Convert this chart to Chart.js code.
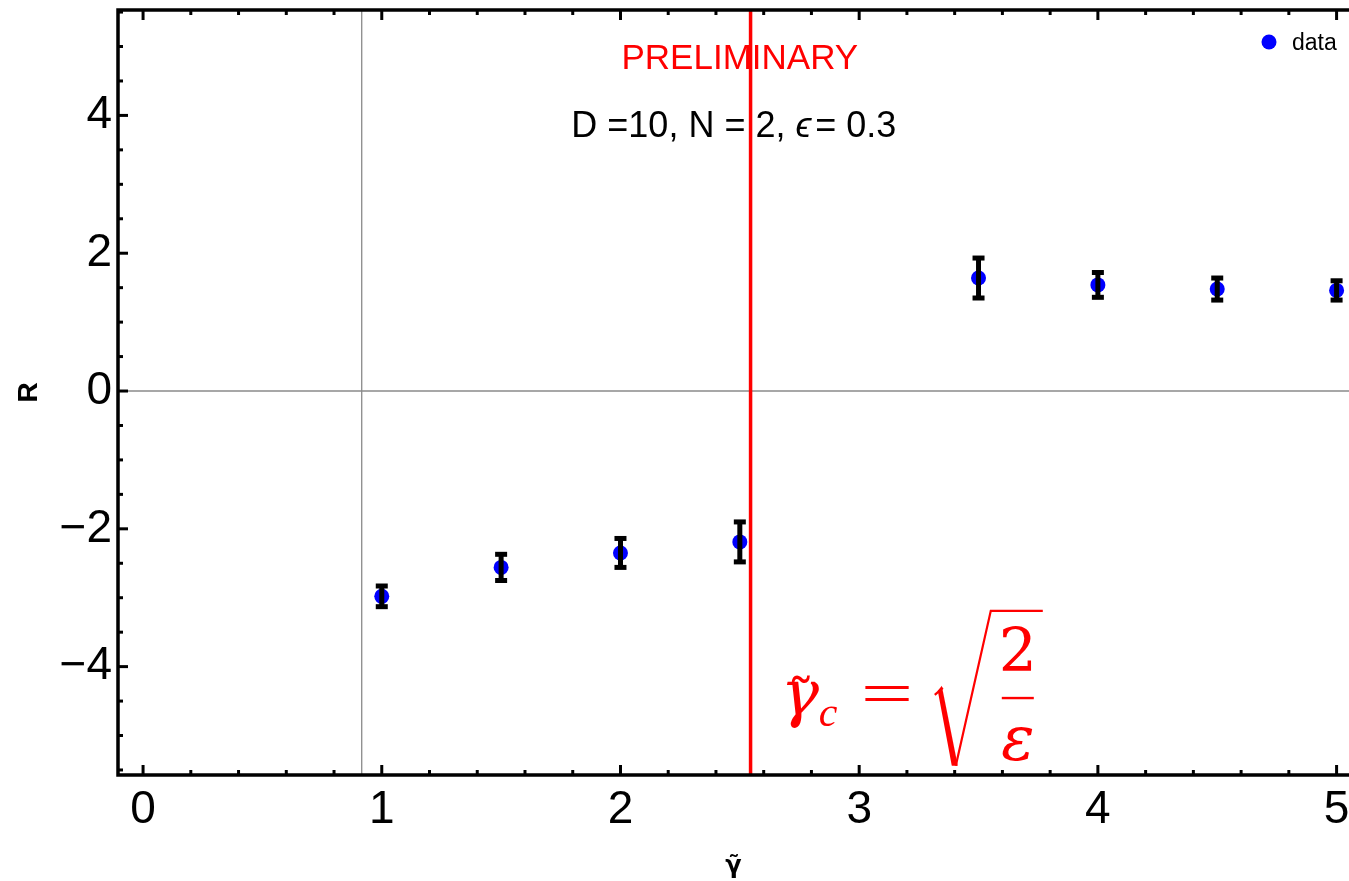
<!DOCTYPE html>
<html>
<head>
<meta charset="utf-8">
<script src="https://cdn.jsdelivr.net/npm/chart.js@4.4.1/dist/chart.umd.min.js"></script>
<style>
  html, body { margin: 0; padding: 0; background: #fff; }
  #wrap { width: 1349px; height: 881px; position: relative; }
</style>
</head>
<body>
<div id="wrap"><canvas id="chart"></canvas></div>
<script>
// data
const gammaVals = [1, 1.5, 2, 2.5, 3.5, 4, 4.5, 5];
const rVals = [-2.98, -2.56, -2.35, -2.19, 1.64, 1.54, 1.48, 1.46];
const rErr = [0.15, 0.19, 0.21, 0.29, 0.29, 0.18, 0.16, 0.14];

// axes
const xTicks = [0, 1, 2, 3, 4, 5];
const yTicks = [-4, -2, 0, 2, 4];
const xMin = -0.105, xMax = 5.052;
const yMin = -5.573, yMax = 5.53;
const axisCrossX = 0.916;   // where the grey vertical axis sits
const gammaC = 2.545;       // red critical line

const minus = v => v < 0 ? "\u2212" + Math.abs(v) : String(v);

// frame, ticks, error bars, texts
const decor = {
  id: "decor",
  beforeDatasetsDraw(chart) {
    const { ctx, scales: { x, y } } = chart;
    ctx.save();
    ctx.textAlign = "center";
    ctx.textBaseline = "alphabetic";
    ctx.fillStyle = "#ff0000";
    ctx.font = '35px "Liberation Sans"';
    ctx.fillText("PRELIMINARY", x.getPixelForValue(2.5), y.getPixelForValue(4.67));

    // subtitle, epsilon in italic
    ctx.fillStyle = "#000";
    const a = "D =10, N = 2, ", b = "\u03F5", c = "= 0.3";
    ctx.font = '36px "Liberation Sans"';
    const wa = ctx.measureText(a).width, wc = ctx.measureText(c).width;
    ctx.font = 'italic 36px "Liberation Sans"';
    const wb = ctx.measureText(b).width + 4;
    let sx = x.getPixelForValue(2.475) - (wa + wb + wc) / 2;
    const sy = y.getPixelForValue(3.69);
    ctx.textAlign = "left";
    ctx.font = '36px "Liberation Sans"';
    ctx.fillText(a, sx, sy);
    ctx.font = 'italic 36px "Liberation Sans"';
    ctx.fillText(b, sx + wa, sy);
    ctx.font = '36px "Liberation Sans"';
    ctx.fillText(c, sx + wa + wb, sy);
    ctx.restore();
  },
  afterDatasetsDraw(chart) {
    const { ctx, scales: { x, y } } = chart;
    ctx.save();
    // error bars on top of the points
    ctx.strokeStyle = "#000";
    ctx.fillStyle = "#000";
    ctx.lineWidth = 5;
    gammaVals.forEach((g, i) => {
      const px = x.getPixelForValue(g);
      const top = y.getPixelForValue(rVals[i] + rErr[i]);
      const bot = y.getPixelForValue(rVals[i] - rErr[i]);
      ctx.beginPath();
      ctx.moveTo(px, top);
      ctx.lineTo(px, bot);
      ctx.stroke();
      ctx.fillRect(px - 6, top - 2.5, 12, 5);
      ctx.fillRect(px - 6, bot - 2.5, 12, 5);
    });

    // legend
    const area = chart.chartArea;
    ctx.fillStyle = "#0000ff";
    ctx.beginPath();
    ctx.arc(area.right - 80, area.top + 32, 7.5, 0, Math.PI * 2);
    ctx.fill();
    ctx.fillStyle = "#000";
    ctx.font = '23px "Liberation Sans"';
    ctx.textAlign = "left";
    ctx.fillText("data", area.right - 57, area.top + 40);

    // formula for the critical gamma
    ctx.fillStyle = "#ff0000";
    ctx.strokeStyle = "#ff0000";
    const fx = x.getPixelForValue(2.68);
    const fb = y.getPixelForValue(-4.7);
    ctx.font = 'italic 64px "DejaVu Serif"';
    ctx.fillText("\u03B3", fx - 2, fb);
    ctx.font = '56px "DejaVu Serif"';
    ctx.textAlign = "center";
    ctx.fillText("\u02DC", fx + 18, fb + 4);
    ctx.textAlign = "left";
    ctx.font = 'italic 42px "Liberation Serif"';
    ctx.fillText("c", fx + 36, fb + 11);
    ctx.save();
    ctx.translate(fx + 78, fb);
    ctx.scale(1.5, 1);
    ctx.font = '62px "Liberation Serif"';
    ctx.fillText("=", 0, -1);
    ctx.restore();

    // radical sign
    const rx = fx + 152;
    ctx.lineJoin = "miter";
    ctx.lineWidth = 2.2;
    ctx.beginPath();
    ctx.moveTo(rx, fb - 20);
    ctx.lineTo(rx + 8, fb - 27);
    ctx.stroke();
    ctx.beginPath();
    ctx.moveTo(rx + 7, fb - 29);
    ctx.lineTo(rx + 23, fb + 51);
    ctx.lineTo(rx + 17, fb + 51);
    ctx.lineTo(rx + 3, fb - 24);
    ctx.closePath();
    ctx.fill();
    ctx.beginPath();
    ctx.moveTo(rx + 21, fb + 51);
    ctx.lineTo(rx + 56, fb - 104);
    ctx.lineTo(rx + 108, fb - 104);
    ctx.stroke();

    // fraction 2 / epsilon
    const cx = rx + 83;
    ctx.textAlign = "center";
    ctx.font = '60px "DejaVu Serif"';
    ctx.fillText("2", cx, fb - 44);
    ctx.fillRect(cx - 16, fb - 18, 32, 2.4);
    ctx.font = 'italic 62px "DejaVu Serif"';
    ctx.fillText("\u03B5", cx, fb + 45);
    ctx.restore();
  },
  afterDraw(chart) {
    const { ctx, chartArea: area, scales: { x, y } } = chart;
    ctx.save();
    ctx.strokeStyle = "#000";
    ctx.lineWidth = 3.5;
    ctx.beginPath();
    ctx.moveTo(area.right + 2, area.top);
    ctx.lineTo(area.left, area.top);
    ctx.lineTo(area.left, area.bottom);
    ctx.lineTo(area.right + 2, area.bottom);
    ctx.stroke();

    // ticks pointing inward
    ctx.lineWidth = 3;
    const tick = (x0, y0, x1, y1) => { ctx.beginPath(); ctx.moveTo(x0, y0); ctx.lineTo(x1, y1); ctx.stroke(); };
    for (let k = 0; k <= 25; k++) {
      const v = k * 0.2;
      const major = k % 5 === 0;
      const len = major ? 10 : 5;
      const px = x.getPixelForValue(v);
      tick(px, area.bottom, px, area.bottom - len);
      tick(px, area.top, px, area.top + len);
    }
    for (let k = -11; k <= 11; k++) {
      const v = k * 0.5;
      if (v < yMin || v > yMax) continue;
      const major = k % 4 === 0;
      const len = major ? 10 : 5;
      const py = y.getPixelForValue(v);
      tick(area.left, py, area.left + len, py);
    }
    ctx.restore();
  }
};

const ctx = document.getElementById("chart").getContext("2d");
const chart = new Chart(ctx, {
  type: "scatter",
  data: {
    datasets: [
      {
        label: "data",
        data: gammaVals.map((g, i) => ({ x: g, y: rVals[i] })),
        backgroundColor: "#0000ff",
        borderWidth: 0,
        pointRadius: 7.5,
        order: 1
      },
      {
        label: "critical",
        data: [{ x: gammaC, y: yMin }, { x: gammaC, y: yMax }],
        showLine: true,
        borderColor: "#ff0000",
        borderWidth: 3.5,
        pointRadius: 0,
        order: 2
      },
      {
        label: "axisV",
        data: [{ x: axisCrossX, y: yMin }, { x: axisCrossX, y: yMax }],
        showLine: true,
        borderColor: "#8a8a8a",
        borderWidth: 1.3,
        pointRadius: 0,
        order: 3
      },
      {
        label: "axisH",
        data: [{ x: xMin, y: 0 }, { x: xMax, y: 0 }],
        showLine: true,
        borderColor: "#8a8a8a",
        borderWidth: 1.3,
        pointRadius: 0,
        order: 4
      }
    ]
  },
  options: {
    responsive: true,
    maintainAspectRatio: false,
    animation: false,
    layout: { autoPadding: false, padding: { top: 10, right: 0, left: 0, bottom: 0 } },
    plugins: { legend: { display: false }, tooltip: { enabled: false } },
    scales: {
      x: {
        type: "linear",
        min: xMin,
        max: xMax,
        afterBuildTicks: s => { s.ticks = xTicks.map(v => ({ value: v })); },
        afterFit: s => { s.height = 106; s.paddingLeft = 0; s.paddingRight = 0; },
        grid: { display: false, drawTicks: false },
        border: { display: false },
        ticks: {
          padding: 8,
          color: "#000",
          maxRotation: 0,
          autoSkip: false,
          font: { family: "Liberation Sans", size: 46 },
          callback: v => minus(v)
        },
        title: {
          display: true,
          text: "\u03B3\u0303",
          color: "#000",
          padding: 0,
          font: { family: "DejaVu Sans", size: 24, weight: "bold" }
        }
      },
      y: {
        type: "linear",
        min: yMin,
        max: yMax,
        afterBuildTicks: s => { s.ticks = yTicks.map(v => ({ value: v })); },
        afterFit: s => { s.width = 118; s.paddingTop = 0; s.paddingBottom = 0; },
        grid: { display: false, drawTicks: false },
        border: { display: false },
        ticks: {
          padding: 6,
          color: "#000",
          autoSkip: false,
          font: { family: "Liberation Sans", size: 46 },
          callback: v => minus(v)
        },
        title: {
          display: true,
          text: "R",
          color: "#000",
          padding: { top: 12, bottom: 0 },
          font: { family: "Liberation Sans", size: 28, weight: "bold" }
        }
      }
    }
  },
  plugins: [decor]
});
</script>
</body>
</html>
